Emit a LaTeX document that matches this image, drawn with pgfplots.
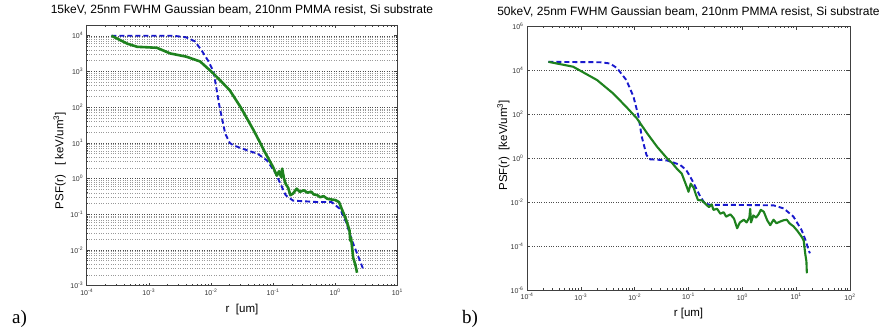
\documentclass[border=0pt]{standalone}
\usepackage{fontspec}
\setmainfont{Liberation Sans}
\newfontfamily\seriffont{Liberation Serif}
\usepackage{pgfplots}
\pgfplotsset{compat=1.18}
\definecolor{psfgreen}{RGB}{30,130,30}
\definecolor{psfblue}{RGB}{25,25,205}
\pgfplotsset{
  every axis/.append style={
    scale only axis,
    axis line style={black!75, line width=0.6pt},
    tick style={black!75, line width=0.5pt},
    major tick length=3pt, minor tick length=1.6pt,
    tick align=inside,
    ticklabel style={font=\fontsize{7}{8}\selectfont, black!80},
    title style={font=\fontsize{12}{14}\selectfont, anchor=base, at={(0.5,1)}, yshift=5pt},
    label style={font=\fontsize{11.5}{13}\selectfont},
    major grid style={dotted, black!70, line width=0.45pt},
    minor grid style={dotted, black!40, line width=0.4pt},
  },
}
\tikzset{
  greenline/.style={color=psfgreen, solid, line join=round},
  blueline/.style={color=psfblue, line width=1.9pt, dash pattern=on 5pt off 3pt},
}
\begin{document}
\begin{tikzpicture}
\useasboundingbox (0pt,0pt) rectangle (880pt,331pt);
% ---------------- panel a ----------------
\begin{axis}[
  xmode=log, ymode=log,
  at={(86.7pt,45.4pt)}, anchor=south west,
  width=310.6pt, height=260.6pt,
  xmin=1e-4, xmax=10, ymin=1e-3, ymax=2e4,
  xtick={1e-4,1e-3,1e-2,1e-1,1,10},
  xticklabels={10\textsuperscript{-4},10\textsuperscript{-3},10\textsuperscript{-2},10\textsuperscript{-1},10\textsuperscript{0},10\textsuperscript{1}},
  ytick={1e-3,1e-2,1e-1,1,10,100,1000,1e4},
  yticklabels={10\textsuperscript{-3},10\textsuperscript{-2},10\textsuperscript{-1},10\textsuperscript{0},10\textsuperscript{1},10\textsuperscript{2},10\textsuperscript{3},10\textsuperscript{4}},
  ymajorgrids, yminorgrids,
  title={15keV, 25nm FWHM Gaussian beam, 210nm PMMA resist, Si substrate},
  xlabel={r\ \ [um]},
  ylabel={PSF(r)\ \ \ [ keV/um\textsuperscript{3}]},
  xlabel style={at={(axis description cs:0.5,-0.09)}, anchor=center},
  ylabel style={at={(axis description cs:-0.087,0.48)}, anchor=center},
]
\addplot[blueline, no marks] coordinates {
(2.5e-4,1e4) (2.5e-3,1e4) (4e-3,9e3) (5.5e-3,7e3) (7e-3,4e3) (9e-3,2e3)
(0.011,1e3) (0.0138,100) (0.017,18) (0.02,10) (0.023,8.5) (0.04,6)
(0.056,5) (0.08,3.2) (0.11,1.4) (0.16,0.34) (0.21,0.24) (0.5,0.22)
(0.87,0.22) (1.2,0.14) (1.5,0.06) (1.87,0.018) (2.4,6e-3) (2.8,3e-3)
};
\addplot[greenline, no marks, line width=2.6pt] coordinates {
(2.5e-4,1e4) (4.5e-4,6e3) (6.5e-4,4.9e3) (1.35e-3,4.6e3) (2.2e-3,3.2e3)
(4e-3,2.6e3) (6.7e-3,1.9e3) (1.1e-2,870) (2e-2,300) (3e-2,100)
(4.9e-2,22) (6.2e-2,10) (7.1e-2,6.2) (0.1,2.1) (0.115,1.2) (0.125,1.6)
(0.135,1.1) (0.14,1.9) (0.15,1.0) (0.16,0.7) (0.175,0.55) (0.19,0.34)
(0.21,0.38) (0.24,0.52) (0.27,0.42) (0.31,0.47) (0.36,0.4) (0.41,0.43)
(0.45,0.36) (0.52,0.34) (0.57,0.3) (0.65,0.32) (0.75,0.27) (0.85,0.26)
(1.0,0.25) (1.15,0.22) (1.3,0.13) (1.45,0.083) (1.6,0.05) (1.7,0.035)
(1.75,0.018) (1.8,0.022) (1.87,0.012) (1.95,0.006) (2.1,4e-3) (2.25,2.3e-3)
};
\end{axis}
% ---------------- panel b ----------------
\begin{axis}[
  xmode=log, ymode=log,
  at={(527pt,41pt)}, anchor=south west,
  width=323pt, height=263.3pt,
  xmin=1e-4, xmax=100, ymin=1e-6, ymax=1e6,
  xtick={1e-4,1e-3,1e-2,1e-1,1,10,100},
  xticklabels={10\textsuperscript{-4},10\textsuperscript{-3},10\textsuperscript{-2},10\textsuperscript{-1},10\textsuperscript{0},10\textsuperscript{1},10\textsuperscript{2}},
  ytick={1e-6,1e-4,1e-2,1,100,1e4,1e6},
  yticklabels={10\textsuperscript{-6},10\textsuperscript{-4},10\textsuperscript{-2},10\textsuperscript{0},10\textsuperscript{2},10\textsuperscript{4},10\textsuperscript{6}},
  yminorticks=false,
  ymajorgrids,
  title={50keV, 25nm FWHM Gaussian beam, 210nm PMMA resist, Si substrate},
  xlabel={r [um]},
  ylabel={PSF(r)\ \ [keV/um\textsuperscript{3}]},
  xlabel style={at={(axis description cs:0.5,-0.0885)}, anchor=center},
  ylabel style={at={(axis description cs:-0.073,0.55)}, anchor=center},
]
\addplot[blueline, no marks] coordinates {
(2.5e-4,2.5e4) (2.3e-3,2.4e4) (3.5e-3,2.1e4) (4.7e-3,1.3e4) (7e-3,3.7e3)
(9.5e-3,650) (0.0118,80) (0.0135,10) (0.0166,1.4) (0.0195,0.9) (0.03,0.85)
(0.04,0.8) (0.052,0.65) (0.07,0.5) (0.09,0.3) (0.107,0.15) (0.13,0.06)
(0.166,0.018) (0.2,0.009) (0.25,0.0076) (1,0.0075) (3.8,0.0072)
(5.9,0.0052) (8.9,0.0022) (12.6,5.4e-4) (15,1.8e-4) (17,6.6e-5) (18,4.7e-5)
};
\addplot[greenline, no marks, line width=2.1pt] coordinates {
(2.5e-4,2.5e4) (7.2e-4,1.5e4) (2e-3,3.7e3) (4e-3,900) (7e-3,220)
(0.011,66) (0.017,14) (0.026,3.4) (0.04,1) (0.05,0.6) (0.06,0.35)
(0.075,0.2) (0.093,0.05) (0.1,0.03) (0.11,0.07) (0.125,0.045) (0.135,0.025)
(0.15,0.0126) (0.18,0.012) (0.2,0.009) (0.24,0.006) (0.27,0.008) (0.29,0.0045)
(0.34,0.005) (0.39,0.003) (0.45,0.0035) (0.5,0.0022) (0.6,0.0028) (0.7,0.0018)
(0.8,0.00065) (0.9,0.0012) (1.07,0.0016) (1.2,0.0012) (1.35,0.002)
(1.4,0.005) (1.45,0.0012) (1.6,0.0025) (1.8,0.002) (2.0,0.0028)
(2.2,0.0045) (2.5,0.0037) (2.9,0.0015) (3.3,0.0009) (3.8,0.0016)
(4.3,0.0011) (5.0,0.0013) (5.8,0.0015) (6.7,0.0016) (7.5,0.0011)
(8.9,0.0008) (10.5,0.0005) (12.6,2.7e-4) (13.8,1.8e-4) (14.7,4.7e-5)
(15.5,2e-5) (15.8,5.8e-6)
};
\end{axis}
\node[anchor=base west, font=\seriffont\fontsize{19}{21}\selectfont, inner sep=0pt] at (12pt,7pt) {a)};
\node[anchor=base west, font=\seriffont\fontsize{19}{21}\selectfont, inner sep=0pt] at (462pt,7pt) {b)};
\end{tikzpicture}
\end{document}
